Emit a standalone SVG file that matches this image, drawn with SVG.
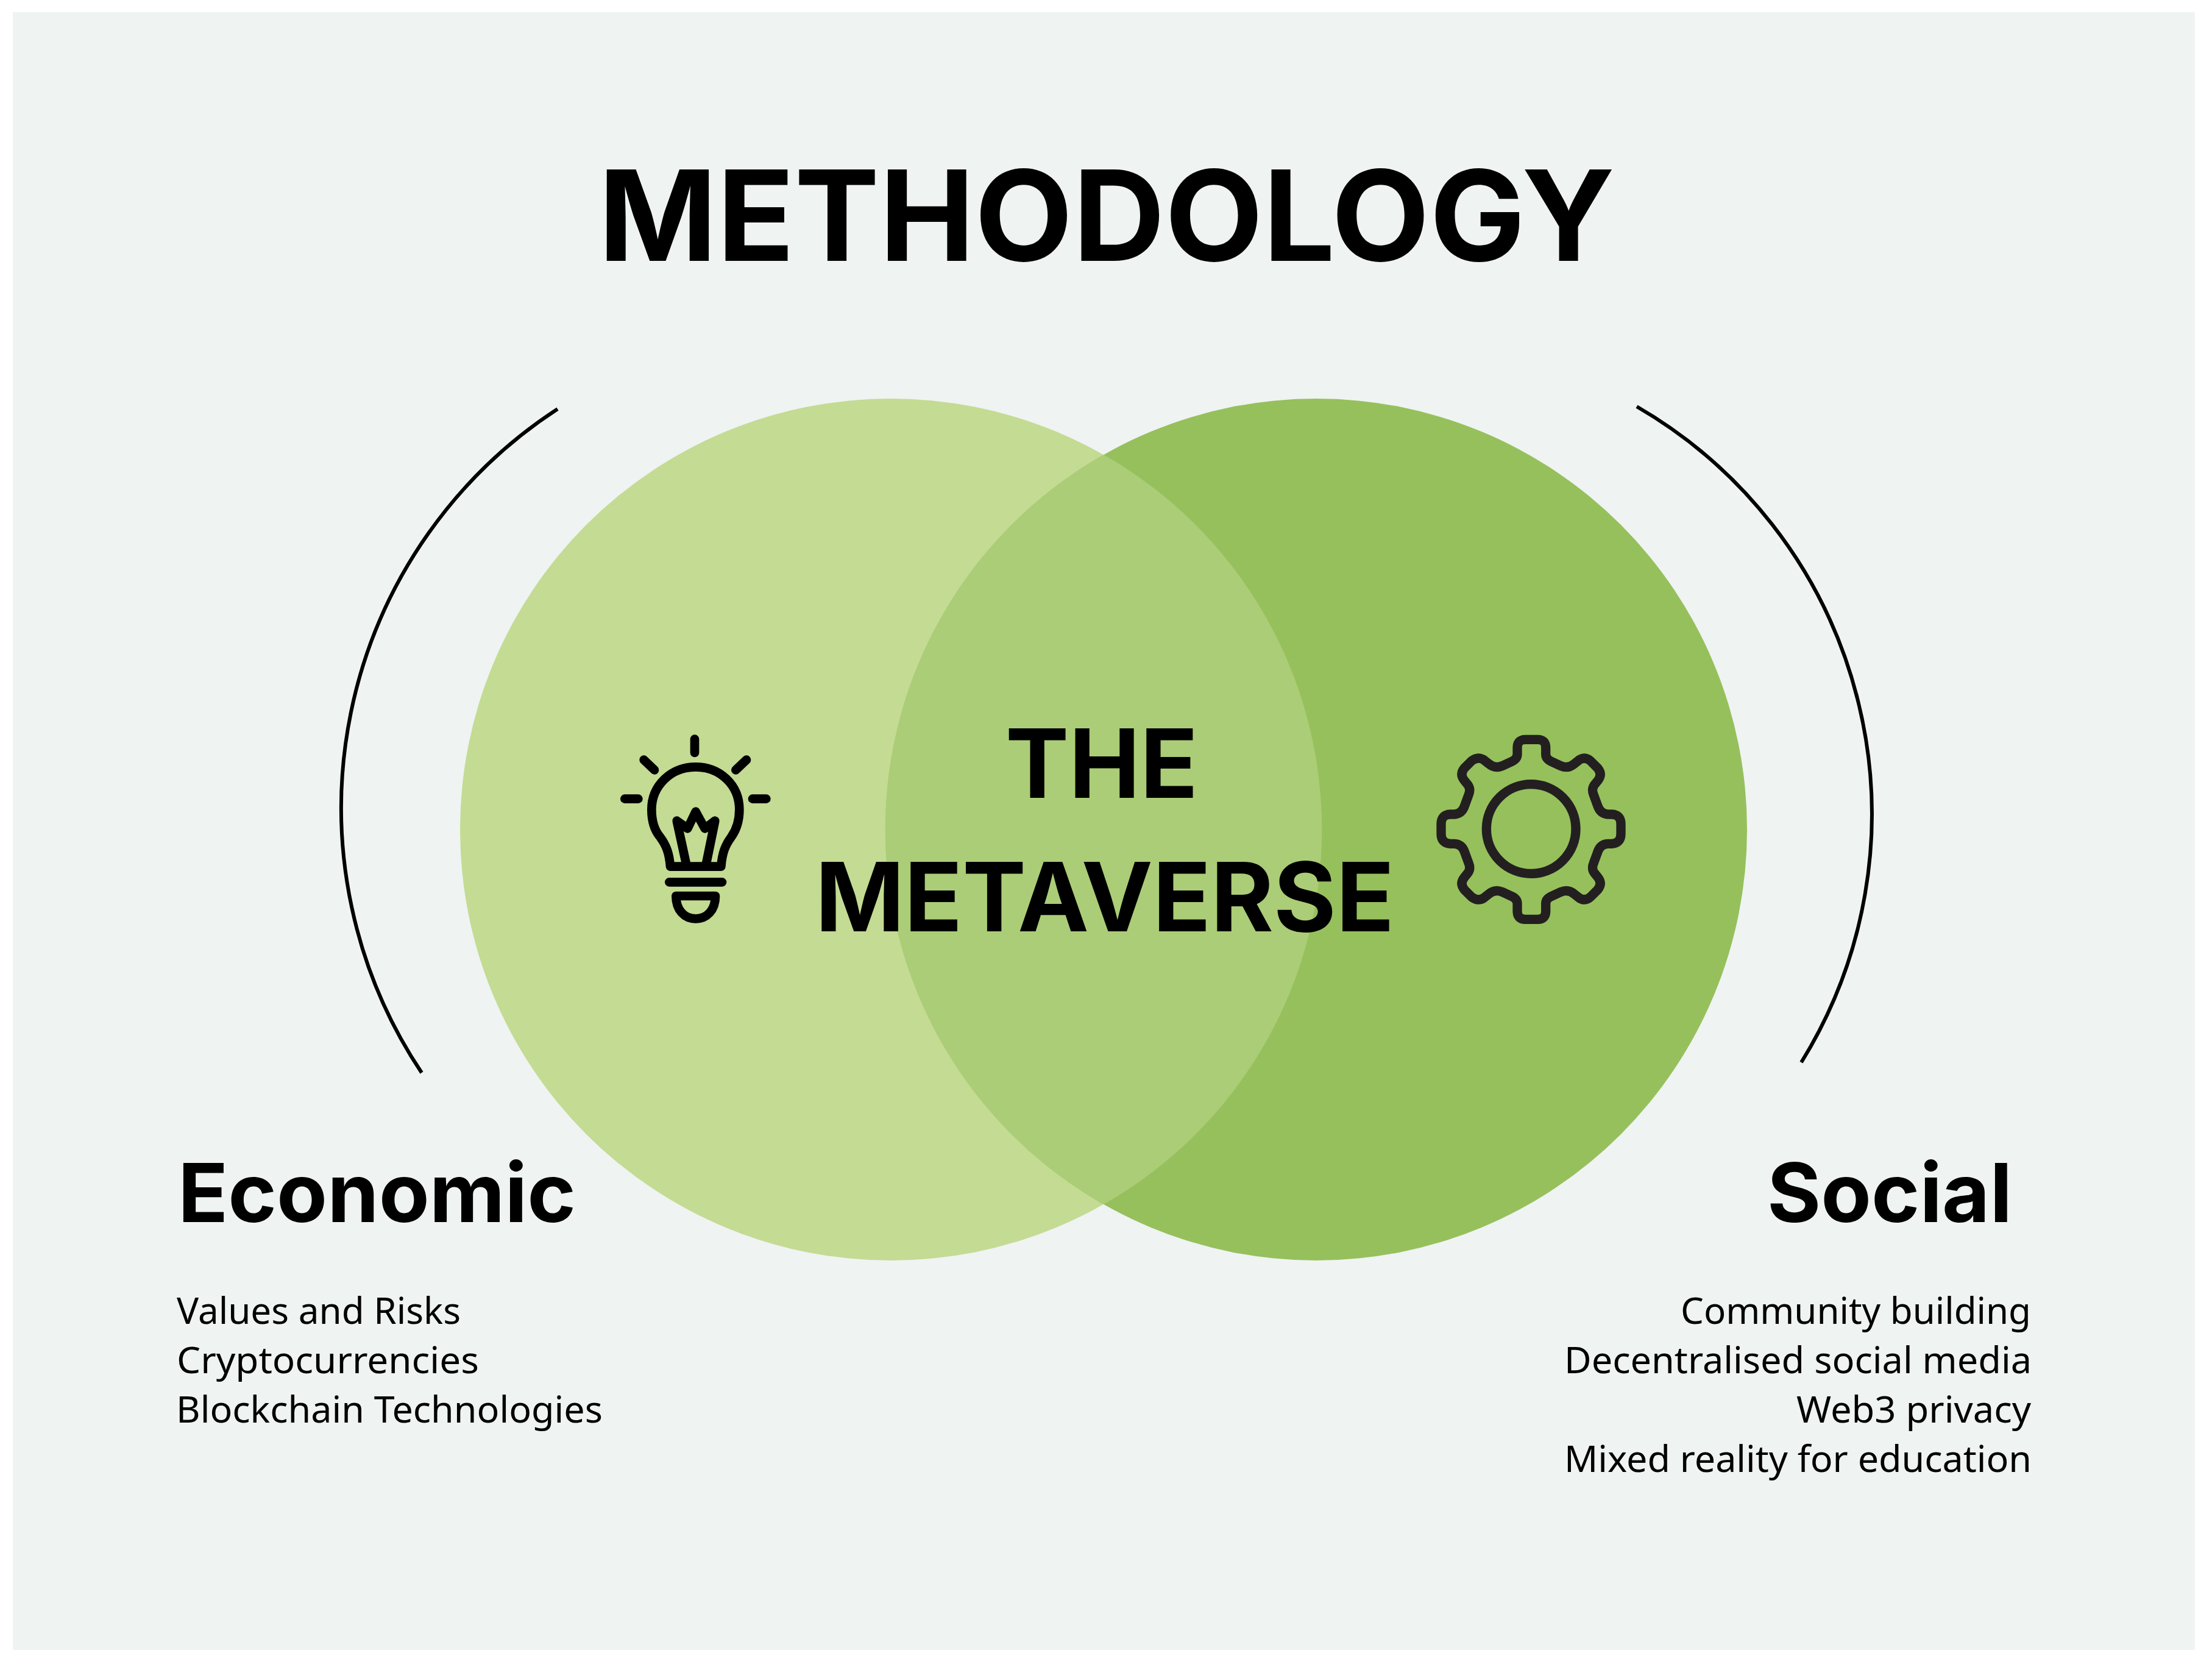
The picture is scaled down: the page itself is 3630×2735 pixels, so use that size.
<svg xmlns="http://www.w3.org/2000/svg" width="3630" height="2735" viewBox="0 0 3630 2735">
<style>
text{fill:#000}
.t,.c,.s{font-family:Inter,"Noto Sans","Liberation Sans",sans-serif;font-weight:700}
.t{font-size:206px}
.c{font-size:157px}
.s{font-size:134px}
.b{font-family:"Noto Sans","Open Sans","Liberation Sans",sans-serif;font-size:60px}
.ico{fill:none;stroke-linecap:round;stroke-linejoin:round}
.bulb{stroke:#000;stroke-width:44}
.gear{stroke:#231F20;stroke-width:46}
.arc{fill:none;stroke:#000;stroke-width:6}
</style>
<rect width="3630" height="2735" fill="#fff"/>
<rect id="panel" x="21" y="20" width="3581" height="2687" fill="#EFF3F2"/>
<g id="venn">
<circle id="economic-circle" cx="1462" cy="1361" r="707" fill="#C4DB93"/>
<circle id="social-circle" cx="2160" cy="1361" r="707" fill="#96C05C"/>
<path id="overlap" d="M1811 746A707 707 0 0 1 1811 1976A707 707 0 0 1 1811 746Z" fill="#ABCD77"/>
</g>
<g id="connectors">
<path class="arc" d="M915 671A781 781 0 0 0 692 1760"/>
<path class="arc" d="M2686 667A773 773 0 0 1 2956 1743"/>
</g>
<g id="bulb-icon" transform="translate(950 1150) scale(.33333)">
<path class="ico bulb" d="M570 188V255M320 290L372 340M825 290L772 340M226 482H292M855 482H922M445 892H705"/>
<path class="ico bulb" d="M450 815C445 750 430 710 400 670C370 635 358 590 358 535C358 415 455 325 575 325C695 325 790 415 790 535C790 590 775 635 750 670C720 710 705 750 700 815Z"/>
<path class="ico bulb" d="M530 810L482 590L535 628L575 545L620 628L670 590L625 810"/>
<path class="ico bulb" d="M478 960H672C672 1030 630 1072 575 1072C520 1072 478 1030 478 960Z"/>
</g>
<g id="gear-icon" transform="translate(2320 1150) scale(.33333)">
<circle class="ico gear" cx="578" cy="630" r="220"/>
<path class="ico gear" d="M510 262V230Q510 190 550 190H610Q650 190 650 230V262Q650 285 675 297L725 320Q760 335 790 310L815 290Q845 272 870 295L905 330Q930 360 908 390L888 415Q875 435 885 460L905 515Q918 555 955 558H975Q1020 560 1020 605V655Q1020 700 975 703H955Q918 705 905 745L885 800Q875 825 888 845L908 870Q930 900 905 930L870 965Q845 988 815 970L790 950Q760 925 725 940L675 963Q650 975 650 998V1035Q650 1075 610 1075H550Q510 1075 510 1035V998Q510 975 485 963L435 940Q400 925 370 950L345 970Q315 988 285 965L250 930Q225 900 248 870L268 845Q281 825 271 800L251 745Q238 705 201 703H180Q135 700 135 655V605Q135 560 180 558H201Q238 555 251 515L271 460Q281 435 268 415L248 390Q225 360 250 330L285 295Q315 272 345 290L370 310Q400 335 435 320L485 297Q510 285 510 262Z"/>
</g>
<g id="title"><text class="t" x="982" y="428" textLength="1668" lengthAdjust="spacingAndGlyphs">METHODOLOGY</text></g>
<g id="center-label">
<text class="c" x="1650" y="1309" textLength="316" lengthAdjust="spacingAndGlyphs">THE</text>
<text class="c" x="1338" y="1528" textLength="950" lengthAdjust="spacingAndGlyphs">METAVERSE</text>
</g>
<g id="economic">
<text class="s" x="292" y="2005" textLength="653" lengthAdjust="spacingAndGlyphs">Economic</text>
<text class="b" x="290" y="2172" textLength="466" lengthAdjust="spacingAndGlyphs">Values and Risks</text>
<text class="b" x="290" y="2253" textLength="496" lengthAdjust="spacingAndGlyphs">Cryptocurrencies</text>
<text class="b" x="289" y="2334" textLength="700" lengthAdjust="spacingAndGlyphs">Blockchain Technologies</text>
</g>
<g id="social">
<text class="s" x="2900" y="2005" textLength="402" lengthAdjust="spacingAndGlyphs">Social</text>
<text class="b" x="2758" y="2172" textLength="575" lengthAdjust="spacingAndGlyphs">Community building</text>
<text class="b" x="2567" y="2253" textLength="767" lengthAdjust="spacingAndGlyphs">Decentralised social media</text>
<text class="b" x="2948" y="2334" textLength="385" lengthAdjust="spacingAndGlyphs">Web3 privacy</text>
<text class="b" x="2567" y="2415" textLength="767" lengthAdjust="spacingAndGlyphs">Mixed reality for education</text>
</g>
</svg>
